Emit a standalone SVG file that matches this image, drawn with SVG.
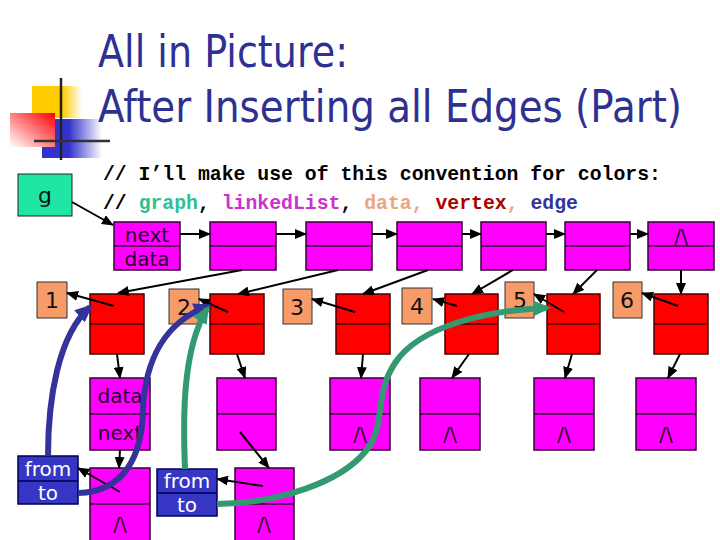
<svg xmlns="http://www.w3.org/2000/svg" width="720" height="540" viewBox="0 0 720 540">
<style>
.title{font-family:"DejaVu Sans","Liberation Sans",sans-serif;font-size:44px;fill:#2e3192}
.code{font-family:"Liberation Mono","Courier New",monospace;font-weight:bold;font-size:19.8px}
.lbl{font-family:"DejaVu Sans","Liberation Sans",sans-serif;font-size:20px;fill:#220022;text-anchor:middle}
.num{font-family:"DejaVu Sans","Liberation Sans",sans-serif;font-size:22px;fill:#111;text-anchor:middle}
.wht{font-family:"DejaVu Sans","Liberation Sans",sans-serif;font-size:20px;fill:#ffffff;text-anchor:middle}
.ll{fill:#ff00ff;stroke:#330033;stroke-width:1.5}
.vx{fill:#ff0000;stroke:#440000;stroke-width:1.5}
.dt{fill:#f79c69;stroke:#333333;stroke-width:1}
.ed{fill:#3636c4;stroke:#000055;stroke-width:1.5}
.gr{fill:#1ee6a4;stroke:#222222;stroke-width:1}
.thin{stroke:#000;stroke-width:2;fill:none;marker-end:url(#ah)}
.thickB{stroke:#333399;stroke-width:6;fill:none;marker-end:url(#ahB)}
.thickG{stroke:#339970;stroke-width:6;fill:none;marker-end:url(#ahG)}
</style>
<defs>
<marker id="ah" markerUnits="userSpaceOnUse" markerWidth="12" markerHeight="10" refX="11" refY="5" orient="auto"><path d="M0,0 L12,5 L0,10 z" fill="#000"/></marker>
<marker id="ahB" markerUnits="userSpaceOnUse" markerWidth="18" markerHeight="16" refX="14" refY="8" orient="auto"><path d="M0,0 L18,8 L0,16 z" fill="#333399"/></marker>
<marker id="ahG" markerUnits="userSpaceOnUse" markerWidth="18" markerHeight="16" refX="14" refY="8" orient="auto"><path d="M0,0 L18,8 L0,16 z" fill="#339970"/></marker>
<linearGradient id="gy" x1="0" y1="0" x2="1" y2="0"><stop offset="0" stop-color="#ffcc00"/><stop offset="0.6" stop-color="#ffcc00"/><stop offset="1" stop-color="#ffcc00" stop-opacity="0"/></linearGradient>
<linearGradient id="gb" x1="0" y1="0" x2="1" y2="0"><stop offset="0" stop-color="#3333cc"/><stop offset="0.45" stop-color="#3333cc"/><stop offset="1" stop-color="#3333cc" stop-opacity="0"/></linearGradient>
<linearGradient id="gred" x1="0" y1="1" x2="1" y2="0"><stop offset="0" stop-color="#ffffff"/><stop offset="1" stop-color="#ff0000"/></linearGradient>
</defs>

<g id="logo">
<rect x="32" y="86" width="50" height="32" fill="url(#gy)"/>
<rect x="42" y="119" width="60" height="39" fill="url(#gb)"/>
<rect x="10" y="113" width="45" height="34" fill="url(#gred)"/>
<line x1="61" y1="78" x2="61" y2="160" stroke="#222" stroke-width="2.5"/>
<line x1="34" y1="141" x2="110" y2="141" stroke="#333" stroke-width="2.5"/>
</g>

<g id="title">
<text class="title" x="98" y="67" textLength="250" lengthAdjust="spacingAndGlyphs">All in Picture:</text>
<text class="title" x="98" y="122" textLength="584" lengthAdjust="spacingAndGlyphs">After Inserting all Edges (Part)</text>
</g>

<g id="code">
<text class="code" x="103" y="180" fill="#000">// I’ll make use of this convention for colors:</text>
<text class="code" x="103" y="209" xml:space="preserve"><tspan fill="#000">// </tspan><tspan fill="#2fbf8f">graph</tspan><tspan fill="#000">, </tspan><tspan fill="#cc33cc">linkedList</tspan><tspan fill="#000">, </tspan><tspan fill="#eba57f">data, </tspan><tspan fill="#aa0000">vertex</tspan><tspan fill="#eba57f">, </tspan><tspan fill="#333399">edge</tspan></text>
</g>

<g id="g"><rect class="gr" x="18" y="174" width="54" height="42"/><text class="num" x="45" y="203">g</text></g>

<g id="list">
<g id="lh"><rect class="ll" x="114" y="222" width="66" height="48"/><line x1="114" y1="246" x2="180" y2="246" stroke="#330033" stroke-width="1.5"/><text class="lbl" x="147" y="242">next</text><text class="lbl" x="147" y="266">data</text></g>
<g id="l2"><rect class="ll" x="210" y="222" width="66" height="48"/><line x1="210" y1="246" x2="276" y2="246" stroke="#330033" stroke-width="1.5"/></g>
<g id="l3"><rect class="ll" x="306" y="222" width="66" height="48"/><line x1="306" y1="246" x2="372" y2="246" stroke="#330033" stroke-width="1.5"/></g>
<g id="l4"><rect class="ll" x="397" y="222" width="65" height="48"/><line x1="397" y1="246" x2="462" y2="246" stroke="#330033" stroke-width="1.5"/></g>
<g id="l5"><rect class="ll" x="481" y="222" width="65" height="48"/><line x1="481" y1="246" x2="546" y2="246" stroke="#330033" stroke-width="1.5"/></g>
<g id="l6"><rect class="ll" x="565" y="222" width="65" height="48"/><line x1="565" y1="246" x2="630" y2="246" stroke="#330033" stroke-width="1.5"/></g>
<g id="l7"><rect class="ll" x="648" y="222" width="66" height="48"/><line x1="648" y1="246" x2="714" y2="246" stroke="#330033" stroke-width="1.5"/><text class="lbl" x="681" y="243">/\</text></g>
</g>

<g id="vertices">
<g id="v1"><rect class="vx" x="90" y="294" width="54" height="60"/><line x1="90" y1="324" x2="144" y2="324" stroke="#440000" stroke-width="1.5"/></g>
<g id="v2"><rect class="vx" x="210" y="294" width="54" height="60"/><line x1="210" y1="324" x2="264" y2="324" stroke="#440000" stroke-width="1.5"/></g>
<g id="v3"><rect class="vx" x="336" y="294" width="54" height="60"/><line x1="336" y1="324" x2="390" y2="324" stroke="#440000" stroke-width="1.5"/></g>
<g id="v4"><rect class="vx" x="445" y="294" width="53" height="60"/><line x1="445" y1="324" x2="498" y2="324" stroke="#440000" stroke-width="1.5"/></g>
<g id="v5"><rect class="vx" x="547" y="294" width="53" height="60"/><line x1="547" y1="324" x2="600" y2="324" stroke="#440000" stroke-width="1.5"/></g>
<g id="v6"><rect class="vx" x="654" y="294" width="54" height="60"/><line x1="654" y1="324" x2="708" y2="324" stroke="#440000" stroke-width="1.5"/></g>
</g>

<g id="data">
<g id="d1"><rect class="dt" x="37" y="282" width="30" height="36"/><text class="num" x="52" y="308">1</text></g>
<g id="d2"><rect class="dt" x="169" y="289" width="30" height="35"/><text class="num" x="184" y="315">2</text></g>
<g id="d3"><rect class="dt" x="283" y="289" width="29" height="35"/><text class="num" x="297" y="315">3</text></g>
<g id="d4"><rect class="dt" x="402" y="288" width="30" height="36"/><text class="num" x="417" y="314">4</text></g>
<g id="d5"><rect class="dt" x="505" y="282" width="29" height="36"/><text class="num" x="520" y="308">5</text></g>
<g id="d6"><rect class="dt" x="613" y="282" width="29" height="36"/><text class="num" x="627" y="308">6</text></g>
</g>

<g id="adjlists">
<g id="a1"><rect class="ll" x="90" y="378" width="60" height="72"/><line x1="90" y1="414" x2="150" y2="414" stroke="#330033" stroke-width="1.5"/><text class="lbl" x="120" y="403">data</text><text class="lbl" x="120" y="440">next</text></g>
<g id="a2"><rect class="ll" x="217" y="378" width="59" height="72"/><line x1="217" y1="414" x2="276" y2="414" stroke="#330033" stroke-width="1.5"/></g>
<g id="a3"><rect class="ll" x="330" y="378" width="60" height="72"/><line x1="330" y1="414" x2="390" y2="414" stroke="#330033" stroke-width="1.5"/><text class="lbl" x="360" y="441">/\</text></g>
<g id="a4"><rect class="ll" x="420" y="378" width="60" height="72"/><line x1="420" y1="414" x2="480" y2="414" stroke="#330033" stroke-width="1.5"/><text class="lbl" x="450" y="441">/\</text></g>
<g id="a5"><rect class="ll" x="534" y="378" width="60" height="72"/><line x1="534" y1="414" x2="594" y2="414" stroke="#330033" stroke-width="1.5"/><text class="lbl" x="564" y="441">/\</text></g>
<g id="a6"><rect class="ll" x="636" y="378" width="60" height="72"/><line x1="636" y1="414" x2="696" y2="414" stroke="#330033" stroke-width="1.5"/><text class="lbl" x="666" y="441">/\</text></g>
<g id="b1"><rect class="ll" x="90" y="468" width="60" height="80"/><line x1="90" y1="504" x2="150" y2="504" stroke="#330033" stroke-width="1.5"/><text class="lbl" x="120" y="531">/\</text></g>
<g id="b2"><rect class="ll" x="235" y="468" width="59" height="80"/><line x1="235" y1="504" x2="294" y2="504" stroke="#330033" stroke-width="1.5"/><text class="lbl" x="264" y="531">/\</text></g>
</g>

<g id="edges">
<g id="e1"><rect class="ed" x="18" y="456" width="60" height="48"/><line x1="18" y1="481" x2="78" y2="481" stroke="#000055" stroke-width="1.5"/><text class="wht" x="48" y="476">from</text><text class="wht" x="48" y="500">to</text></g>
<g id="e2"><rect class="ed" x="157" y="469" width="60" height="47"/><line x1="157" y1="493" x2="217" y2="493" stroke="#000055" stroke-width="1.5"/><text class="wht" x="187" y="488">from</text><text class="wht" x="187" y="512">to</text></g>
</g>

<g id="connectors">
<line class="thin" x1="72" y1="202" x2="113" y2="225"/>
<line class="thin" x1="180" y1="234" x2="210" y2="234"/>
<line class="thin" x1="276" y1="234" x2="306" y2="234"/>
<line class="thin" x1="372" y1="234" x2="397" y2="234"/>
<line class="thin" x1="462" y1="234" x2="481" y2="234"/>
<line class="thin" x1="546" y1="234" x2="565" y2="234"/>
<line class="thin" x1="630" y1="234" x2="648" y2="234"/>
<line class="thin" x1="242" y1="270" x2="118" y2="293"/>
<line class="thin" x1="338" y1="270" x2="238" y2="294"/>
<line class="thin" x1="428" y1="270" x2="363" y2="294"/>
<line class="thin" x1="513" y1="270" x2="472" y2="294"/>
<line class="thin" x1="597" y1="270" x2="573" y2="294"/>
<line class="thin" x1="681" y1="270" x2="681" y2="294"/>
<line class="thin" x1="114" y1="306" x2="67" y2="293"/>
<line class="thin" x1="228" y1="312" x2="199" y2="299"/>
<line class="thin" x1="355" y1="312" x2="312" y2="299"/>
<line class="thin" x1="457" y1="306" x2="433" y2="299"/>
<line class="thin" x1="564" y1="312" x2="534" y2="294"/>
<line class="thin" x1="678" y1="306" x2="642" y2="293"/>
<line class="thin" x1="117" y1="354" x2="120" y2="378"/>
<line class="thin" x1="237" y1="354" x2="245" y2="378"/>
<line class="thin" x1="363" y1="354" x2="361" y2="378"/>
<line class="thin" x1="469" y1="354" x2="452" y2="378"/>
<line class="thin" x1="572" y1="354" x2="565" y2="378"/>
<line class="thin" x1="680" y1="354" x2="668" y2="378"/>
<line class="thin" x1="120" y1="450" x2="119" y2="468"/>
<line class="thin" x1="240" y1="432" x2="269" y2="468"/>
<line class="thin" x1="120" y1="492" x2="78" y2="468"/>
<line class="thin" x1="263" y1="486" x2="217" y2="479"/>
<path class="thickB" d="M48,456 C48,400 58,335 90,307"/>
<path class="thickB" d="M78,493 C125,492 142,455 143,410 C145,360 165,322 208,306"/>
<path class="thickG" d="M185,469 C183,420 182,350 207,309"/>
<path class="thickG" d="M217,504 C280,503 340,482 365,452 C388,425 372,398 395,363 C420,325 490,310 547,308"/>
</g>
</svg>
